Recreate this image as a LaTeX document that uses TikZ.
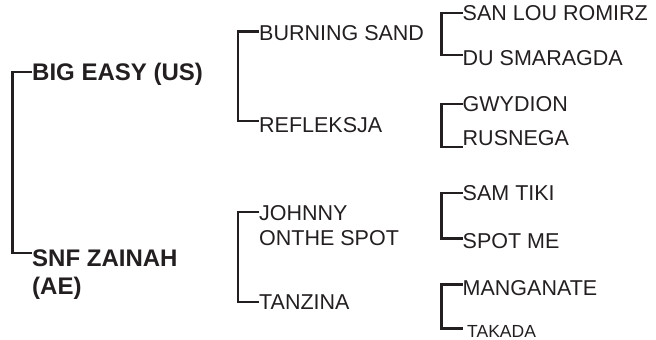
\documentclass[tikz,border=0pt]{standalone}
\usepackage{fontspec}
\setmainfont{Liberation Sans}
\definecolor{ink}{RGB}{35,31,32}
\tikzset{
  lbl/.style={anchor=west, inner sep=0pt, text height=15.4pt, text depth=0pt,
    font=\fontsize{21.5}{25}\selectfont, text=ink},
  lblml/.style={anchor=north west, inner sep=0pt, align=left,
    font=\fontsize{21.5}{25}\selectfont, text=ink},
  boldlbl/.style={anchor=west, inner sep=0pt, text height=17.2pt, text depth=0pt,
    font=\bfseries\fontsize{24}{28}\selectfont, text=ink},
  boldml/.style={anchor=north west, inner sep=0pt, align=left,
    font=\bfseries\fontsize{24}{28}\selectfont, text=ink},
  smalllbl/.style={anchor=west, inner sep=0pt, text height=12.5pt, text depth=0pt,
    font=\fontsize{17.5}{21}\selectfont, text=ink},
  brk/.style={draw=ink, line width=2.4pt, line join=miter}
}
\begin{document}
\begin{tikzpicture}[x=1pt,y=-1pt]
\useasboundingbox (0,0) rectangle (656,340);
% level 1
\node[boldlbl] (big) at (32,72) {BIG EASY (US)};
\node[boldml] (snf) at (32,250) {SNF ZAINAH\\(AE)};
\draw[brk] (big.west) -- ++(-19.5,0) |- ([yshift=-3pt]snf.north west);
% level 2
\node[lbl] (burn) at (259,33) {BURNING SAND};
\node[lbl] (refl) at (259,125) {REFLEKSJA};
\draw[brk] ([yshift=1.5pt]burn.west) -- ++(-21,0) |- ([yshift=4pt]refl.west);
\node[lblml] (john) at (259,205) {JOHNNY\\ONTHE SPOT};
\node[lbl] (tanz) at (259,302) {TANZINA};
\draw[brk] ([yshift=-7pt]john.north west) -- ++(-21,0) |- (tanz.west);
% level 3
\node[lbl] (san) at (462.5,13) {SAN LOU ROMIRZ};
\node[lbl] (du) at (462.5,58) {DU SMARAGDA};
\draw[brk] (san.west) -- ++(-21,0) |- ([yshift=3pt]du.west);
\node[lbl] (gwy) at (462.5,104) {GWYDION};
\node[lbl] (rus) at (462.5,137.5) {RUSNEGA};
\draw[brk] (gwy.west) -- ++(-21,0) |- ([yshift=-9.5pt]rus.west);
\node[lbl] (sam) at (462.5,193) {SAM TIKI};
\node[lbl] (spot) at (462.5,241) {SPOT ME};
\draw[brk] (sam.west) -- ++(-21,0) |- ([yshift=2.7pt]spot.west);
\node[lbl] (man) at (462.5,288) {MANGANATE};
\node[smalllbl] (tak) at (467,331) {TAKADA};
\draw[brk] ([yshift=3.7pt]man.west) -- ++(-21,0) |- ([xshift=-4.5pt,yshift=2.7pt]tak.west);
\end{tikzpicture}
\end{document}
